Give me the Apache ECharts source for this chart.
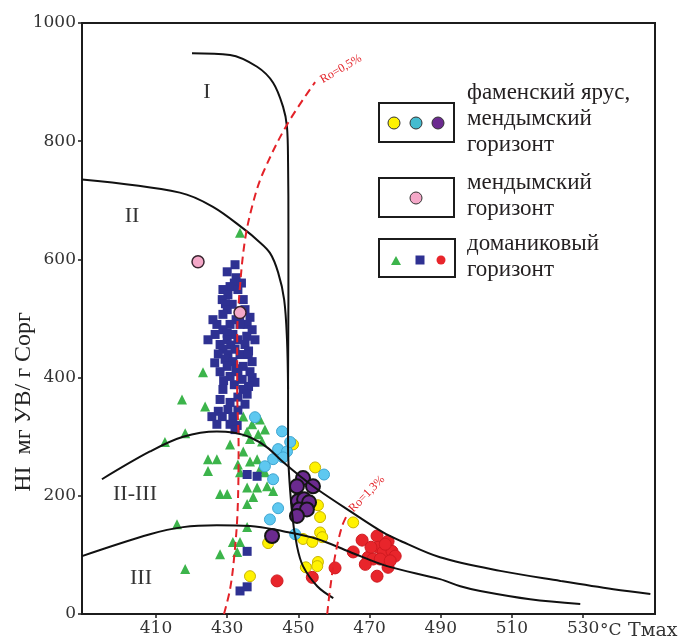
<!DOCTYPE html>
<html><head><meta charset="utf-8">
<script src="https://cdn.jsdelivr.net/npm/echarts@6/dist/echarts.min.js"></script>
<style>html,body{margin:0;padding:0;background:#fff}#c{width:683px;height:637px}</style>
</head><body><div id="c"></div>
<script>
// ---- axis ticks ----
const xTicks = [410, 430, 450, 470, 490, 510, 530];
const yTicks = [0, 200, 400, 600, 800, 1000];

// ---- boundary curves (Tmax, HI) ----
const curveI = [[420.1,949],[430.8,946],[438.4,926],[442.9,899],[445.7,858],[446.8,824],[447.1,763],[447.2,650],[447.2,532],[447.1,397],[447.1,284],[448.2,172],[449.6,115],[451.3,81],[455.3,47],[459.8,27]];
const curveII = [[389.2,735],[416.7,713],[426.0,689],[435.0,650],[438.4,633],[442.0,611],[444.3,578],[446.0,532],[446.8,464],[447.1,380]];
const curveII_III = [[394.8,228],[408.3,275],[417.6,300],[427.1,309],[431.6,307],[436.4,299],[441.2,282],[445.7,257],[450.5,233],[455.3,211],[464.5,174],[473.8,138],[478.6,124],[489.8,96],[506.7,73],[523.6,56],[538.5,42],[548.9,34]];
const curveIII = [[389.2,98],[408.3,135],[417.6,147],[427.1,150],[436.4,149],[445.7,140],[455.3,127],[464.5,105],[474.9,81],[489.8,59],[495.5,47],[501.1,39],[515.1,25],[529.2,17]];
const ro05 = [[429.1,0],[430.8,42],[431.9,93],[432.9,172],[433.2,284],[432.8,380],[432.8,465],[433.3,532],[435.0,633],[437.5,701],[440.1,747],[446.8,828],[454.7,900]];
const ro13 = [[458.1,0],[458.9,42],[460.3,98],[462.3,149],[464.0,171]];

// ---- samples ----
const domSquares = [[432.2,591],[430.0,579],[432.5,569],[432.0,560],[434.0,560],[430.8,554],[428.8,549],[433.0,549],[430.2,540],[428.6,532],[434.5,532],[431.4,524],[429.5,525],[430.0,515],[435.0,515],[428.8,507],[433.5,505],[436.4,502],[426.0,498],[432.5,498],[427.1,490],[430.8,490],[435.6,490],[433.6,490],[428.8,481],[437.0,481],[426.6,473],[431.6,473],[430.0,475],[435.5,470],[424.6,464],[430.0,464],[433.0,464],[437.8,464],[428.0,456],[431.0,455],[435.0,456],[428.8,448],[432.2,448],[436.0,445],[427.5,440],[430.2,439],[433.6,439],[435.9,439],[429.4,431],[431.6,427],[437.0,427],[426.5,425],[430.0,419],[434.5,419],[432.5,415],[428.0,410],[433.0,410],[436.4,410],[430.8,402],[437.0,400],[434.2,397],[429.0,395],[437.8,392],[432.0,388],[436.0,385],[428.8,380],[434.5,380],[435.6,372],[433.0,367],[428.0,363],[430.8,358],[435.0,355],[430.2,346],[433.0,345],[427.5,343],[425.7,334],[428.6,334],[431.6,334],[427.1,321],[430.8,321],[432.8,319],[432.2,312],[435.6,236],[438.4,233],[435.6,106],[433.6,39],[435.6,46]];
const domTriangles = [[433.6,645],[423.2,409],[417.3,363],[423.8,351],[418.2,306],[412.5,291],[434.5,334],[437.0,321],[439.2,329],[435.6,309],[438.7,304],[440.6,312],[439.8,292],[436.4,296],[430.8,287],[434.5,275],[424.6,262],[427.1,262],[424.6,242],[433.0,253],[436.4,258],[438.4,262],[433.6,240],[439.2,245],[440.6,240],[435.6,214],[438.4,214],[441.2,216],[442.9,208],[428.0,203],[430.0,203],[435.6,186],[437.3,198],[415.9,152],[435.6,147],[431.6,122],[433.6,122],[428.0,101],[432.8,105],[418.2,76]];
const domCircles = [[467.9,125],[472.1,132],[475.2,123],[465.4,105],[469.6,96],[472.4,113],[473.8,105],[476.3,106],[477.2,98],[471.0,93],[473.0,93],[468.8,84],[475.2,79],[472.1,64],[460.3,78],[453.9,62],[444.0,56],[474.4,118],[470.4,113],[475.8,90]];
const famYellow = [[448.5,287],[454.7,248],[455.5,184],[456.1,164],[456.1,138],[456.7,130],[451.3,127],[453.9,122],[441.5,120],[455.5,88],[455.3,81],[452.1,79],[436.4,64],[465.4,155]];
const famCyan = [[437.8,333],[445.4,309],[444.3,279],[446.8,275],[442.9,262],[445.7,265],[447.7,291],[440.6,250],[442.9,228],[444.3,179],[442.0,160],[449.1,135],[457.2,236]];
const famPurple = [[451.3,230],[449.6,216],[454.1,216],[449.9,191],[451.6,194],[453.0,189],[450.2,177],[452.4,177],[449.6,166],[442.6,132]];
const mendPink = [[421.8,596],[433.6,510]];

const chart = echarts.init(document.getElementById('c'));
const serif = '"Liberation Serif", "DejaVu Serif", serif';
const tickFont = '"DejaVu Serif", serif';
const ink = '#1c1c1c';

function lineS(data, color, dashed) {
  return {type:'line', data, showSymbol:false, smooth:0.35, z:4, silent:true,
    lineStyle:{color, width:2, type: dashed ? [8,5] : 'solid'}};
}
function scat(data, symbol, size, color, border, bw, z) {
  return {type:'scatter', data, symbol, symbolSize:size, z: z || 2, silent:true,
    itemStyle:{color, borderColor:border, borderWidth:bw, opacity:1}};
}

const graphic = [
  {type:'text', x:24, y:402, rotation:Math.PI/2, style:{text:'HI  мг УВ/ г Сорг', font:'24px '+serif, fill:'#222', align:'center', verticalAlign:'middle'}},
  {type:'text', x:600, y:631, style:{text:'°C', font:'17px '+tickFont, fill:'#333', align:'left', verticalAlign:'middle'}},
  {type:'text', x:628, y:631, style:{text:'Tмах', font:'19px '+tickFont, fill:'#333', align:'left', verticalAlign:'middle'}},
  {type:'text', x:207, y:92, style:{text:'I', font:'22px '+serif, fill:'#333', align:'center', verticalAlign:'middle'}},
  {type:'text', x:132, y:216, style:{text:'II', font:'22px '+serif, fill:'#333', align:'center', verticalAlign:'middle'}},
  {type:'text', x:135, y:494, style:{text:'II-III', font:'22px '+serif, fill:'#333', align:'center', verticalAlign:'middle'}},
  {type:'text', x:141, y:578, style:{text:'III', font:'22px '+serif, fill:'#333', align:'center', verticalAlign:'middle'}},
  {type:'text', x:341, y:69, rotation:30*Math.PI/180, style:{text:'Ro=0,5%', font:'12px '+serif, fill:'#e32228', align:'center', verticalAlign:'middle'}},
  {type:'text', x:367, y:494, rotation:46*Math.PI/180, style:{text:'Ro=1,3%', font:'12px '+serif, fill:'#e32228', align:'center', verticalAlign:'middle'}},
  {type:'rect', shape:{x:379,y:103,width:75,height:39}, style:{fill:'#fff', stroke:ink, lineWidth:2}, z:10},
  {type:'circle', shape:{cx:394,cy:123,r:6}, style:{fill:'#fff200', stroke:'#333', lineWidth:1}, z:11},
  {type:'circle', shape:{cx:416,cy:123,r:6}, style:{fill:'#45bcd0', stroke:'#333', lineWidth:1}, z:11},
  {type:'circle', shape:{cx:438,cy:123,r:6}, style:{fill:'#6b2a8f', stroke:'#333', lineWidth:1}, z:11},
  {type:'text', x:467, y:80, style:{text:'фаменский ярус,\nмендымский\nгоризонт', font:'23px '+serif, lineHeight:26, fill:'#231f20', align:'left', verticalAlign:'top'}, z:11},
  {type:'rect', shape:{x:379,y:178,width:75,height:39}, style:{fill:'#fff', stroke:ink, lineWidth:2}, z:10},
  {type:'circle', shape:{cx:416,cy:198,r:6}, style:{fill:'#f4a8c8', stroke:'#333', lineWidth:1}, z:11},
  {type:'text', x:467, y:170, style:{text:'мендымский\nгоризонт', font:'23px '+serif, lineHeight:26, fill:'#231f20', align:'left', verticalAlign:'top'}, z:11},
  {type:'rect', shape:{x:379,y:239,width:76,height:38}, style:{fill:'#fff', stroke:ink, lineWidth:2}, z:10},
  {type:'polygon', shape:{points:[[396,256],[401,265],[391,265]]}, style:{fill:'#3cb44b'}, z:11},
  {type:'rect', shape:{x:415.5,y:255.5,width:9,height:9}, style:{fill:'#2e3192'}, z:11},
  {type:'circle', shape:{cx:441,cy:260,r:4.5}, style:{fill:'#e8252b'}, z:11},
  {type:'text', x:467, y:231, style:{text:'доманиковый\nгоризонт', font:'23px '+serif, lineHeight:26, fill:'#231f20', align:'left', verticalAlign:'top'}, z:11}
];

chart.setOption({
  animation:false,
  backgroundColor:'#fff',
  grid:{left:82, right:28, top:23, bottom:22, show:true, borderColor:ink, borderWidth:2, backgroundColor:'transparent'},
  xAxis:{type:'value', min:389.2, max:550.2,
    axisLine:{show:true, onZero:false, lineStyle:{color:ink, width:2}},
    axisTick:{show:true, customValues:xTicks, length:4, lineStyle:{color:ink, width:1.5}},
    axisLabel:{show:true, customValues:xTicks, color:'#333', fontFamily:tickFont, fontSize:17, margin:6, formatter:v => String(v)},
    splitLine:{show:false}},
  yAxis:{type:'value', min:0, max:1000, interval:200,
    axisLine:{show:true, lineStyle:{color:ink, width:2}},
    axisTick:{show:true, length:4, lineStyle:{color:ink, width:1.5}},
    axisLabel:{color:'#333', fontFamily:tickFont, fontSize:17, margin:6, formatter:v => String(v)},
    splitLine:{show:false}},
  graphic,
  series:[
    scat(domTriangles, 'triangle', 10, '#3cb44b', '#3cb44b', 0),
    scat(domSquares, 'rect', 9, '#2e3192', '#2e3192', 0),
    scat(famYellow, 'circle', 11, '#fff200', '#c9b400', 1),
    scat(famCyan, 'circle', 11, '#5ec8f0', '#3fa6d2', 1),
    scat(domCircles, 'circle', 12, '#e8252b', '#cf1a20', 1),
    scat(famPurple, 'circle', 14, '#6b2a8f', '#151515', 2, 3),
    lineS(curveI, '#111', false),
    lineS(curveII, '#111', false),
    lineS(curveII_III, '#111', false),
    lineS(curveIII, '#111', false),
    lineS(ro05, '#e32228', true),
    lineS(ro13, '#e32228', true),
    scat(mendPink, 'circle', 12, '#f4a8c8', '#3a2530', 1.5, 6)
  ]
});
</script></body></html>
